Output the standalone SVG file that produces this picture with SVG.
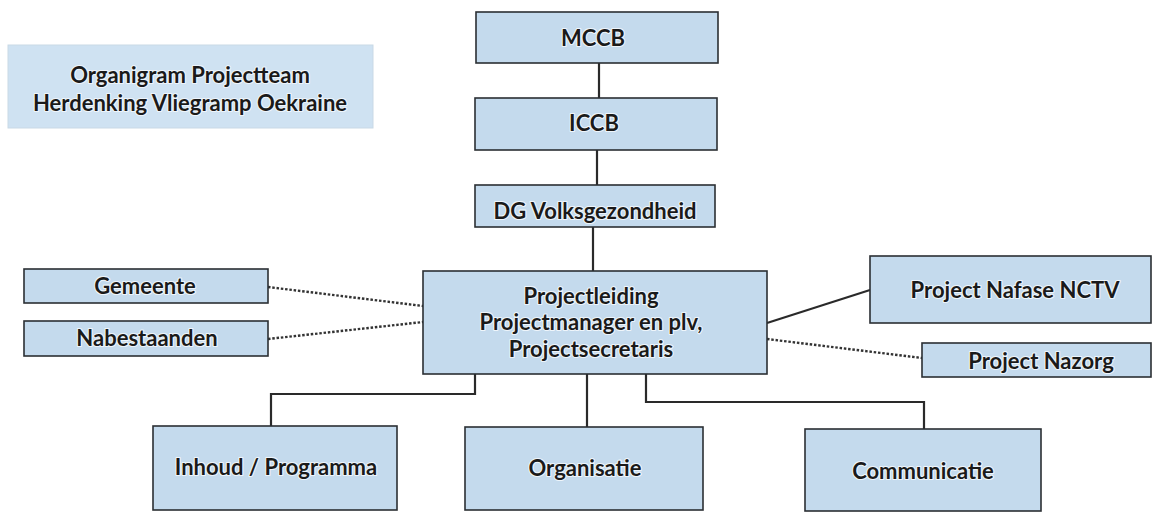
<svg xmlns="http://www.w3.org/2000/svg" width="1153" height="513" viewBox="0 0 1153 513">
<style>
.box{fill:#c4daed;stroke:#2b2f33;stroke-width:1.6}
.title{fill:#cfe2f2;stroke:#c9d9e6;stroke-width:1}
.t{font-family:Lato,"Open Sans",sans-serif;font-weight:bold;font-size:22px;fill:#1a1a1a;text-anchor:middle;stroke:#eef5fb;stroke-width:2.2;paint-order:stroke;stroke-linejoin:round}
.solid{fill:none;stroke:#2a2a2a;stroke-width:2.2}
.dot{fill:none;stroke:#333;stroke-width:2.4;stroke-dasharray:2.5 1.8}
</style>
<rect width="1153" height="513" fill="#ffffff"/>
<g id="connectors">
<line class="solid" x1="599" y1="63" x2="599" y2="98"/>
<line class="solid" x1="597" y1="150" x2="597" y2="185"/>
<line class="solid" x1="593" y1="227" x2="593" y2="271"/>
<line class="dot" x1="268" y1="287" x2="423" y2="306"/>
<line class="dot" x1="268" y1="339" x2="423" y2="322"/>
<line class="solid" x1="767" y1="323" x2="870" y2="290"/>
<line class="dot" x1="767" y1="339" x2="922" y2="358"/>
<polyline class="solid" points="475,374 475,394 271,394 271,426"/>
<line class="solid" x1="587" y1="374" x2="587" y2="427"/>
<polyline class="solid" points="646,374 646,402 924,402 924,429"/>
</g>
<g id="title">
<rect class="title" x="8" y="45" width="365" height="83"/>
<text class="t" x="190" y="83">Organigram Projectteam</text>
<text class="t" x="190" y="111">Herdenking Vliegramp Oekraine</text>
</g>
<g id="mccb">
<rect class="box" x="476" y="12" width="242" height="51"/>
<text class="t" x="593" y="46">MCCB</text>
</g>
<g id="iccb">
<rect class="box" x="475" y="98" width="242" height="52"/>
<text class="t" x="594" y="131">ICCB</text>
</g>
<g id="dg">
<rect class="box" x="475" y="185" width="240" height="42"/>
<text class="t" x="595" y="219">DG Volksgezondheid</text>
</g>
<g id="projectleiding">
<rect class="box" x="423" y="271" width="344" height="103"/>
<text class="t" x="591" y="304">Projectleiding</text>
<text class="t" x="591" y="330">Projectmanager en plv,</text>
<text class="t" x="591" y="357">Projectsecretaris</text>
</g>
<g id="gemeente">
<rect class="box" x="24" y="269" width="244" height="34"/>
<text class="t" x="145" y="294">Gemeente</text>
</g>
<g id="nabestaanden">
<rect class="box" x="24" y="321" width="244" height="35"/>
<text class="t" x="147" y="346">Nabestaanden</text>
</g>
<g id="nafase">
<rect class="box" x="870" y="256" width="281" height="67"/>
<text class="t" x="1015" y="298">Project Nafase NCTV</text>
</g>
<g id="nazorg">
<rect class="box" x="922" y="343" width="229" height="34"/>
<text class="t" x="1041" y="369">Project Nazorg</text>
</g>
<g id="inhoud">
<rect class="box" x="153" y="426" width="244" height="84"/>
<text class="t" x="276" y="475">Inhoud / Programma</text>
</g>
<g id="organisatie">
<rect class="box" x="465" y="427" width="238" height="83"/>
<text class="t" x="585" y="476">Organisatie</text>
</g>
<g id="communicatie">
<rect class="box" x="805" y="429" width="236" height="82"/>
<text class="t" x="923" y="479">Communicatie</text>
</g>
</svg>
